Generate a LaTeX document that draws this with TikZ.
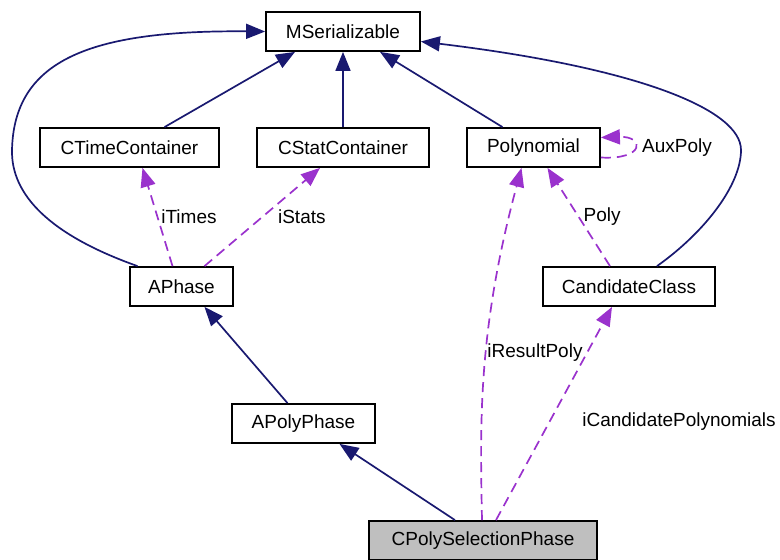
\documentclass[tikz,border=0pt]{standalone}
\usepackage{fontspec}
\setmainfont{Liberation Sans}
\usetikzlibrary{arrows.meta}

\definecolor{inheritblue}{HTML}{191970}
\definecolor{usepurple}{HTML}{9A32CD}
\definecolor{focusgray}{HTML}{BFBFBF}

\begin{document}
\begin{tikzpicture}[
  x=1pt, y=-1pt,
  classbox/.style={draw=black, line width=1.8pt, fill=white, minimum height=39pt, inner sep=0pt, font=\fontsize{19}{22}\selectfont},
  focus/.style={classbox, fill=focusgray},
  inherit arrow/.style={-{Triangle[length=19pt,width=15pt]}, draw=inheritblue, line width=1.7pt},
  use arrow/.style={-{Triangle[length=19pt,width=15pt]}, draw=usepurple, line width=1.7pt, dash pattern=on 10pt off 6pt},
  edge label/.style={font=\fontsize{19}{22}\selectfont, inner sep=1pt}
]
\path[use as bounding box] (0,0) rectangle (780,560);

% classes
\node[classbox, minimum width=154pt] (mser) at (343,31.5) {MSerializable};
\node[classbox, minimum width=179pt] (ctime) at (129.5,147.5) {CTimeContainer};
\node[classbox, minimum width=172pt] (cstat) at (343,147.5) {CStatContainer};
\node[classbox, minimum width=133pt] (poly) at (533.5,147.5) {Polynomial};
\node[classbox, minimum width=103pt] (aphase) at (181.5,286.5) {APhase};
\node[classbox, minimum width=172pt] (cand) at (629,286.5) {CandidateClass};
\node[classbox, minimum width=143pt] (apoly) at (303.5,423.5) {APolyPhase};
\node[focus, minimum width=228pt] (cpoly) at (483,540.5) {CPolySelectionPhase};

% inheritance
\draw[inherit arrow] ([xshift=35pt]ctime.north) -- ([xshift=-48pt]mser.south);
\draw[inherit arrow] (cstat.north) -- (mser.south);
\draw[inherit arrow] ([xshift=-31pt]poly.north) -- ([xshift=37pt]mser.south);
\draw[inherit arrow] ([xshift=-44pt]aphase.north) .. controls (50,235) and (11,195) .. (12,150)
  .. controls (14,60) and (90,30) .. (mser.west);
\draw[inherit arrow] ([xshift=28pt]cand.north) .. controls (705,232) and (741,185) .. (741,150)
  .. controls (741,110) and (640,68) .. ([yshift=-10pt]mser.east);
\draw[inherit arrow] ([xshift=-16pt]apoly.north) -- ([xshift=23pt]aphase.south);
\draw[inherit arrow] ([xshift=-28pt]cpoly.north) -- ([xshift=36pt]apoly.south);

% members
\draw[use arrow] ([xshift=-9pt]aphase.north) -- node[edge label, right=2pt] (ltimes) {iTimes} ([xshift=13pt]ctime.south);
\draw[use arrow] ([xshift=23pt]aphase.north) -- node[edge label, right=14pt] (lstats) {iStats} ([xshift=-23pt]cstat.south);
\draw[use arrow] ([yshift=-10pt]poly.east) .. controls (645,160) and (645,136) .. ([yshift=10pt]poly.east);
\node[edge label, anchor=west] (laux) at (641,147.5) {AuxPoly};
\draw[use arrow] ([xshift=-19pt]cand.north) -- node[edge label, right=3pt] (lpoly) {Poly} ([xshift=14pt]poly.south);
\draw[use arrow] ([xshift=-1pt]cpoly.north) .. controls (480,420) and (478,330) .. ([xshift=-12pt]poly.south);
\node[edge label] (lresult) at (535,353) {iResultPoly};
\draw[use arrow] ([xshift=13pt]cpoly.north) -- ([xshift=-17pt]cand.south);
\node[edge label] (lcand) at (679,422) {iCandidatePolynomials};
\end{tikzpicture}
\end{document}
